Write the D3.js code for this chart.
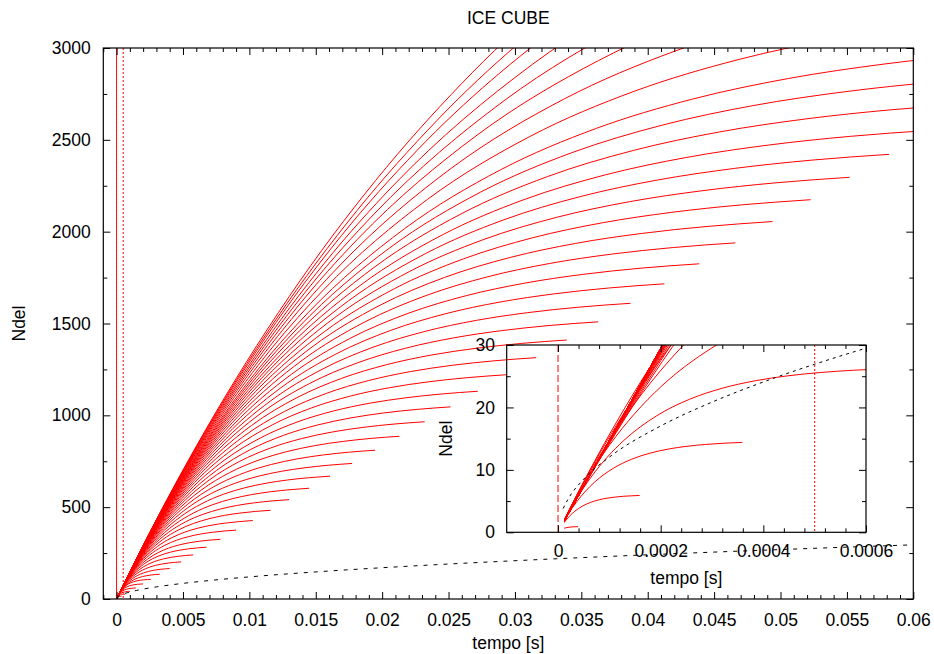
<!DOCTYPE html>
<html><head><meta charset="utf-8">
<script src="https://cdn.jsdelivr.net/npm/d3@7"></script>
<style>
body{margin:0;background:#fff}
svg text{font-family:"Liberation Sans",Arial,Helvetica,sans-serif;fill:#000}
</style>
</head><body>
<svg id="chart" width="934" height="654"></svg>
<script>
// ---------------- data ----------------
// end point of every red curve: time [s] and Ndel at that time
const curveEndT = [0.000039,0.000159,0.000359,0.00064,0.0010,0.00145,0.00198,0.00258,0.00325,0.0040,
  0.00486,0.00577,0.00677,0.00782,0.0090,0.01026,0.0116,0.0130,0.0145,0.01608,
  0.01774,0.01947,0.0213,0.0232,0.02515,0.0272,0.02935,0.0316,0.0339,0.03627,
  0.0387,0.04125,0.04388,0.0466,0.0494,0.05227,0.0552,0.05818,0.06135,0.06487,
  0.06856,0.0723,0.0780,0.0842,0.0907,0.0973,0.1044,0.1130,0.1207,0.1300];
const curveEndN = [0.9,5.9,14.4,26.2,41.5,60,82,107,135,166,
  202,240,282,325,375,427,483,541,603,669,
  738,810,886,965,1046,1131,1221,1314,1410,1509,
  1610,1716,1825,1939,2055,2174,2296,2421,2552,2699,
  2852,3008,3245,3503,3773,4048,4343,4701,5021,5408];
// which normalised profile each curve follows (1 = short, sharper knee; 0 = long)
const curveProfile = [1,1,1,1,1,1,1,1,0,0, 0,0,0,0,0,0,0,0,0,0, 0,0,0,0,0,0,0,0,0,0,
  0,0,0,0,0,0,0,0,0,0, 0,0,0,0,0,0,0,0,0,0];
// normalised profiles (fraction of end time -> fraction of end value)
const shapeU      = [0,0.02,0.05,0.1,0.15,0.2,0.3,0.4,0.5,0.6,0.7,0.8,0.9,1];
const shapeFLong  = [0,0.0697,0.1655,0.3045,0.4212,0.5191,0.6703,0.7769,0.8520,0.9049,0.9422,0.9684,0.9870,1];
const shapeFShort = [0,0.0783,0.1847,0.3358,0.4596,0.5610,0.7119,0.8130,0.8808,0.9263,0.9567,0.9771,0.9908,1];
// black dashed reference curve
const refT = [0.00001,0.00002,0.00005,0.0001,0.0002,0.0003,0.0004,0.0005,0.0006,0.0008,0.001,0.0015,0.002,0.003,0.004,0.005,0.007,0.01,0.015,0.02,0.025,0.03,0.035,0.04,0.045,0.05,0.055,0.06];
const refN = [3.81,5.38,8.51,12.04,17.03,20.85,24.08,26.92,29.49,34.05,38.07,46.63,53.84,65.95,76.15,85.14,100.7,120.4,147.5,170.3,190.4,208.5,225.2,240.8,255.4,269.2,282.4,294.9];
// vertical markers
const markerT = [0, 0.0005];
const firstSampleT = 0.000012;
// axes
const mainXTicks = [0,0.005,0.01,0.015,0.02,0.025,0.03,0.035,0.04,0.045,0.05,0.055,0.06];
const mainXTickLabels = ["0","0.005","0.01","0.015","0.02","0.025","0.03","0.035","0.04","0.045","0.05","0.055","0.06"];
const mainYTicks = [0,500,1000,1500,2000,2500,3000];
const mainYTickLabels = ["0","500","1000","1500","2000","2500","3000"];
const insetXTicks = [0,0.0002,0.0004,0.0006];
const insetXTickLabels = ["0","0.0002","0.0004","0.0006"];
const insetYTicks = [0,10,20,30];
const insetYTickLabels = ["0","10","20","30"];
const titleText = "ICE CUBE";
const xLabelText = "tempo [s]";
const yLabelText = "Ndel";

// ---------------- drawing ----------------
const svg = d3.select("#chart");
const FS = 17.5;
const curves = curveEndT.map((te,i)=>{
  const f = curveProfile[i] ? shapeFShort : shapeFLong;
  return shapeU.map((u,j)=>[u*te, f[j]*curveEndN[i]]);
});
const refPts = refT.map((t,i)=>[t, refN[i]]);

function panel(o){
  const x = d3.scaleLinear().domain(o.xDomain).range([o.left,o.right]);
  const y = d3.scaleLinear().domain(o.yDomain).range([o.bottom,o.top]);
  const g = svg.append("g");
  const defs = svg.append("defs");
  defs.append("clipPath").attr("id",o.id+"clip").append("rect")
    .attr("x",o.left).attr("y",o.top).attr("width",o.right-o.left).attr("height",o.bottom-o.top);
  const cs = Math.max(o.left, x(o.curveStart));
  defs.append("clipPath").attr("id",o.id+"cclip").append("rect")
    .attr("x",cs).attr("y",o.top).attr("width",o.right-cs).attr("height",o.bottom-o.top);

  const line = d3.line().x(d=>x(d[0])).y(d=>y(d[1])).curve(d3.curveMonotoneX);
  const cg = g.append("g").attr("clip-path",`url(#${o.id}cclip)`);
  cg.selectAll("path").data(curves).join("path")
    .attr("d",line).attr("fill","none").attr("stroke","#ff0000").attr("stroke-width",1);

  const og = g.append("g").attr("clip-path",`url(#${o.id}clip)`);
  og.append("path").datum(refPts).attr("d",line).attr("fill","none")
    .attr("stroke","#000").attr("stroke-width",1).attr("stroke-dasharray",o.refDash);
  og.selectAll("line.mk").data(markerT).join("line").attr("class","mk")
    .attr("x1",d=>x(d)).attr("x2",d=>x(d)).attr("y1",o.top).attr("y2",o.bottom)
    .attr("stroke","#ff0000").attr("stroke-width",1)
    .attr("stroke-dasharray",(d,i)=>o.markerDash[i]);

  // ticks
  function axis(gen, tr, vals, len, labels, pad){
    const a = gen.tickValues(vals).tickSize(-len).tickSizeOuter(0).tickPadding(pad||0)
      .tickFormat(labels ? ((d,i)=>labels[i]) : "");
    const ag = g.append("g").attr("transform",tr).call(a);
    ag.select(".domain").remove();
    ag.attr("font-size",null).attr("font-family",null);
    ag.selectAll("text").style("font-size",FS+"px");
    ag.selectAll("line").attr("stroke","#000");
    return ag;
  }
  const xMin = o.xMinor.filter(v=>!o.xMajor.some(m=>Math.abs(m-v)<1e-12));
  const yMin = o.yMinor.filter(v=>!o.yMajor.some(m=>Math.abs(m-v)<1e-12));
  axis(d3.axisBottom(x),`translate(0,${o.bottom})`,o.xMajor,o.major,o.xLabels,o.xPad);
  axis(d3.axisBottom(x),`translate(0,${o.bottom})`,xMin,o.minor);
  axis(d3.axisTop(x),`translate(0,${o.top})`,o.xMajor,o.major);
  axis(d3.axisTop(x),`translate(0,${o.top})`,xMin,o.minor);
  axis(d3.axisLeft(y),`translate(${o.left},0)`,o.yMajor,o.major,o.yLabels,o.yPad);
  axis(d3.axisLeft(y),`translate(${o.left},0)`,yMin,o.minor);
  axis(d3.axisRight(y),`translate(${o.right},0)`,o.yMajor,o.major);
  axis(d3.axisRight(y),`translate(${o.right},0)`,yMin,o.minor);

  g.append("rect").attr("x",o.left).attr("y",o.top).attr("width",o.right-o.left)
    .attr("height",o.bottom-o.top).attr("fill","none").attr("stroke","#000").attr("stroke-width",1.2);

  g.append("text").attr("x",(o.left+o.right)/2).attr("y",o.xLabelY).attr("text-anchor","middle")
    .style("font-size",FS+"px").text(xLabelText);
  g.append("text").attr("transform",`translate(${o.yLabelX},${(o.top+o.bottom)/2}) rotate(-90)`)
    .attr("text-anchor","middle").style("font-size",FS+"px").text(yLabelText);
  return {x,y};
}

// main panel
panel({id:"m", left:103.3, right:913.3, top:48, bottom:599,
  xDomain:[-0.001,0.06], yDomain:[0,3000], curveStart:0,
  xMajor:mainXTicks, xMinor:d3.range(-1,61).map(i=>i/1000), xLabels:mainXTickLabels,
  yMajor:mainYTicks, yMinor:d3.range(0,13).map(i=>i*250), yLabels:mainYTickLabels,
  major:7, minor:4, xPad:14.6, yPad:12.6, xLabelY:649, yLabelX:25,
  markerDash:[null,"2,2"], refDash:"4,6"});

svg.append("text").attr("x",508.3).attr("y",24).attr("text-anchor","middle")
  .style("font-size",FS+"px").text(titleText);

// inset panel
panel({id:"i", left:506.7, right:866, top:345, bottom:532.3,
  xDomain:[-0.0001,0.0006], yDomain:[0,30], curveStart:firstSampleT,
  xMajor:insetXTicks, xMinor:d3.range(0,16).map(i=>i*0.00004), xLabels:insetXTickLabels,
  yMajor:insetYTicks, yMinor:d3.range(0,7).map(i=>i*5), yLabels:insetYTickLabels,
  major:7, minor:4, xPad:12.3, yPad:11.7, xLabelY:583.6, yLabelX:451.7,
  markerDash:["7,3","2,2"], refDash:"3,4"});
</script>
</body></html>
